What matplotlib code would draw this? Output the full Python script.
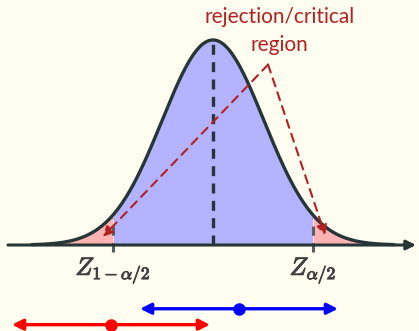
import numpy as np
import matplotlib as mpl
import matplotlib.pyplot as plt
import matplotlib.patheffects as pe

mpl.rcParams['mathtext.fontset'] = 'cm'

bg = '#fffcf0'
ink = '#263636'
dark_red = '#b22222'

# standard normal, two sided test
crit_z = [-1.96, 1.96]
crit_labels = [r'$Z_{1-\alpha/2}$', r'$Z_{\alpha/2}$']

# two confidence intervals drawn below the axis (centre, half width, height)
int_centres = [0.51, -2.0]
int_half = [1.94, 1.94]
int_y = [-0.124, -0.155]
int_colours = ['#0000ff', '#ff0000']

# annotation arrows from the label apex down into the tails
apex = (1.08, 0.351)
arrow_tips = [(-2.16, 0.016), (2.20, 0.019)]

def pdf(x):
    return np.exp(-x**2 / 2) / np.sqrt(2 * np.pi)

fig = plt.figure(figsize=(4.19, 3.31), dpi=100, facecolor=bg)
ax = fig.add_axes([0, 0, 1, 1])
ax.set_facecolor(bg)
ax.set_xlim(-4.176, 4.039)
ax.set_ylim(-0.1673, 0.4767)
ax.axis('off')

x = np.linspace(-3.55, 3.55, 600)
y = pdf(x)
mid = (x >= crit_z[0]) & (x <= crit_z[1])
ax.fill_between(x, 0, y, where=mid, color='#b3b3ff', lw=0)
ax.fill_between(x, 0, y, where=x <= crit_z[0], color='#ffb3b3', lw=0)
ax.fill_between(x, 0, y, where=x >= crit_z[1], color='#ffb3b3', lw=0)
ax.plot(x, y, color=ink, lw=2.4, solid_capstyle='round', zorder=4)

# horizontal axis with arrow
ax.annotate('', xy=(3.98, 0), xytext=(-4.02, 0),
            arrowprops=dict(arrowstyle='-|>', color=ink, lw=2.2,
                            mutation_scale=14, shrinkA=0, shrinkB=0), zorder=5)

# mean line
ax.plot([0, 0], [0, pdf(0)], color=ink, lw=2.4, ls=(0, (3, 2.2)), zorder=3)

# critical values
for z, lab in zip(crit_z, crit_labels):
    ax.plot([z, z], [-0.014, pdf(z) - 0.005], color='#5a5f5f', lw=2.2,
            ls=(0, (3, 2.5)), zorder=3)
    ax.text(z, -0.05, lab, ha='center', va='center', fontsize=18, color='#404040',
            path_effects=[pe.withStroke(linewidth=0.7, foreground='#404040')])

# rejection region label and arrows
ax.text(1.31, 0.444, 'rejection/critical', ha='center', va='center',
        fontsize=15, color=dark_red, family='Lato')
ax.text(1.31, 0.39, 'region', ha='center', va='center',
        fontsize=15, color=dark_red, family='Lato')
for tip in arrow_tips:
    ax.annotate('', xy=tip, xytext=apex,
                arrowprops=dict(arrowstyle='-|>', color=dark_red, lw=1.5,
                                ls=(0, (4, 3)), mutation_scale=15,
                                shrinkA=0, shrinkB=0), zorder=6)

# intervals
for c, h, yy, col in zip(int_centres, int_half, int_y, int_colours):
    ax.annotate('', xy=(c - h, yy), xytext=(c + h, yy),
                arrowprops=dict(arrowstyle='<|-|>', color=col, lw=2.4,
                                mutation_scale=16, shrinkA=0, shrinkB=0))
    ax.plot(c, yy, 'o', color=col, markersize=8)

fig.savefig('out.png', dpi=100, facecolor=bg)
